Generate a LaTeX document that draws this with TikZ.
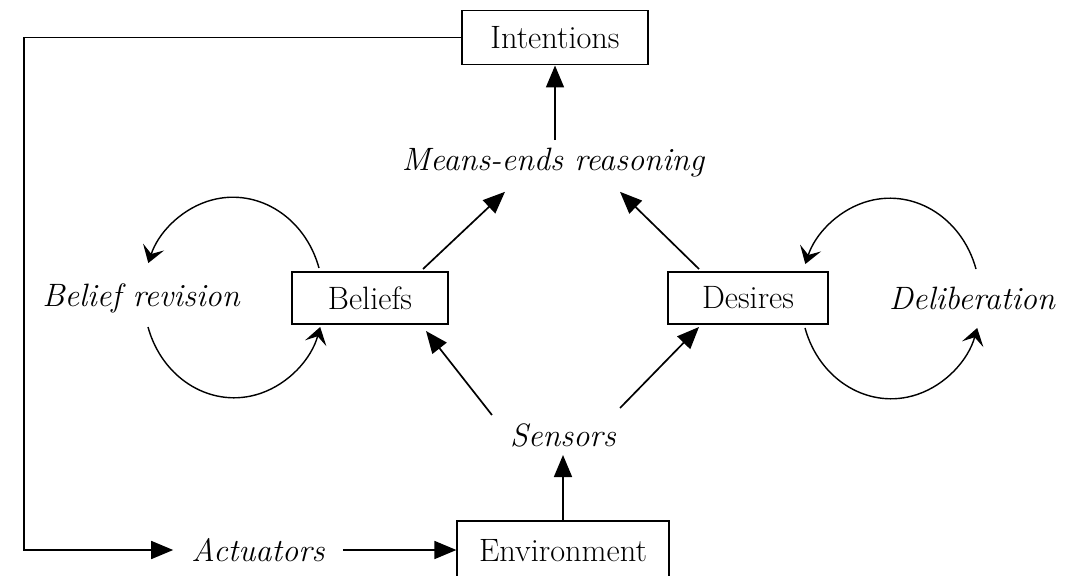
\documentclass[tikz,border=0pt]{standalone}
\usepackage{tikz}
\usetikzlibrary{arrows.meta, calc}
\newcommand{\figfont}{\fontsize{23}{27}\selectfont}

\begin{document}
\begin{tikzpicture}[x=0.025cm, y=0.025cm,
      box/.style={draw, line width=1.4pt, minimum height=1.35cm, inner sep=0pt,
                  font=\figfont},
      lbl/.style={font=\figfont\itshape, inner xsep=0.45cm, inner ysep=0.2cm},
      arr/.style={line width=1.2pt, -{Triangle[length=0.55cm, width=0.45cm]}},
      cyc/.style={line width=1pt, -{Stealth[length=0.42cm, width=0.55cm, inset=0.18cm]}}]
    \useasboundingbox (0,0) rectangle (1071,575);
    \node[box, minimum width=4.65cm] (int) at (555,537.5) {Intentions};
    \node[lbl] (mer) at (553,412) {Means-ends reasoning};
    \node[box, minimum width=3.9cm, minimum height=1.3cm] (bel) at (370,277) {Beliefs};
    \node[box, minimum width=4cm, minimum height=1.3cm] (des) at (748,277) {Desires};
    \node[lbl] (brev) at (141,277) {Belief revision};
    \node[lbl] (delib) at (972,277) {Deliberation};
    \node[lbl] (sens) at (563,140) {Sensors};
    \node[lbl] (act) at (258,25) {Actuators};
    \node[box, minimum width=5.28cm, minimum height=1.5cm] (env) at (563,24) {Environment};
    \coordinate (bl) at (24,25);
    % Outer loop
    \draw[arr] (int.west) -| (bl) -- (act.west);
    \draw[arr] (act.east) -- (act.east -| env.west);
    \draw[arr] (env.north) -- (sens.south);
    % Sensors and reasoning
    \draw[arr] (sens.north west) -- ($(bel.south east)+(-23,-6)$);
    \draw[arr] ($(sens.north east)+(-14,7)$) -- ($(des.south west)+(32,-2)$);
    \draw[arr] ($(bel.north east)+(-26,2)$) -- ($(mer.south)+(-48,-6)$);
    \draw[arr] ($(des.north west)+(32,2)$) -- ($(mer.south)+(67,-6)$);
    \draw[arr] (mer.north -| int.south) -- (int.south);
    % Revision cycles
    \coordinate (brevb) at (148,248);
    \coordinate (delibt) at (976,306);
    \draw[cyc] ($(bel.north west)+(28,3)$)
      arc[start angle=17, end angle=160, x radius=2.25cm, y radius=2.5cm];
    \draw[cyc] (brevb)
      arc[start angle=197, end angle=343, x radius=2.25cm, y radius=2.5cm];
    \draw[cyc] (delibt)
      arc[start angle=17, end angle=160, x radius=2.25cm, y radius=2.5cm];
    \draw[cyc] ($(des.south east)+(-24,-3)$)
      arc[start angle=197, end angle=343, x radius=2.25cm, y radius=2.5cm];
  \end{tikzpicture}
\end{document}
